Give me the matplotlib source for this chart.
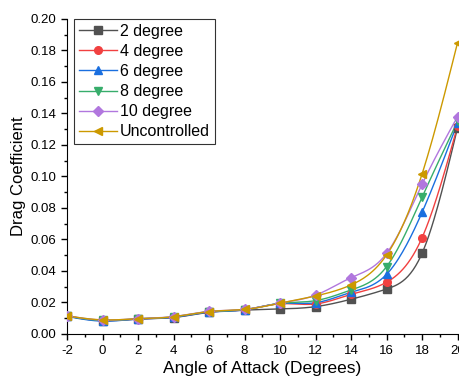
import numpy as np
import matplotlib.pyplot as plt
from matplotlib.ticker import MultipleLocator

plt.rcParams['font.family'] = ['Liberation Sans', 'DejaVu Sans']
plt.rcParams['axes.unicode_minus'] = False

# ---- data ----
angles = [-2, 0, 2, 4, 6, 8, 10, 12, 14, 16, 18, 20]
cd_2deg = [0.0112, 0.0083, 0.0093, 0.0103, 0.0136, 0.0150, 0.0157, 0.0172, 0.0219, 0.0284, 0.0511, 0.131]
cd_4deg = [0.0112, 0.0084, 0.0094, 0.0105, 0.0138, 0.0152, 0.0190, 0.0189, 0.0250, 0.0327, 0.0610, 0.132]
cd_6deg = [0.0110, 0.0080, 0.0093, 0.0104, 0.0137, 0.0151, 0.0192, 0.0197, 0.0263, 0.0377, 0.0771, 0.134]
cd_8deg = [0.0112, 0.0085, 0.0095, 0.0107, 0.0140, 0.0153, 0.0193, 0.0210, 0.0278, 0.0426, 0.0867, 0.135]
cd_10deg = [0.0114, 0.0087, 0.0096, 0.0109, 0.0142, 0.0155, 0.0195, 0.0245, 0.0356, 0.0510, 0.0949, 0.138]
cd_unc = [0.0113, 0.0088, 0.0095, 0.0108, 0.0141, 0.0154, 0.0194, 0.0240, 0.0310, 0.0500, 0.1015, 0.185]

labels = ['2 degree', '4 degree', '6 degree', '8 degree', '10 degree', 'Uncontrolled']
series = [cd_2deg, cd_4deg, cd_6deg, cd_8deg, cd_10deg, cd_unc]
colors = ['#515151', '#F14040', '#1A6FDF', '#37AD6B', '#B177DE', '#CC9900']
markers = ['s', 'o', '^', 'v', 'D', '<']
msizes = [5.5, 5.5, 6, 6, 5, 6]


def spline(x, y, n=300):
    """natural cubic spline through the points (line style only)"""
    x = np.asarray(x, float)
    y = np.asarray(y, float)
    k = len(x)
    h = np.diff(x)
    A = np.zeros((k, k))
    b = np.zeros(k)
    A[0, 0] = A[-1, -1] = 1
    for i in range(1, k - 1):
        A[i, i - 1] = h[i - 1]
        A[i, i] = 2 * (h[i - 1] + h[i])
        A[i, i + 1] = h[i]
        b[i] = 3 * ((y[i + 1] - y[i]) / h[i] - (y[i] - y[i - 1]) / h[i - 1])
    c = np.linalg.solve(A, b)
    xs = np.linspace(x[0], x[-1], n)
    idx = np.clip(np.searchsorted(x, xs) - 1, 0, k - 2)
    dx = xs - x[idx]
    hi = h[idx]
    bb = (y[idx + 1] - y[idx]) / hi - hi * (2 * c[idx] + c[idx + 1]) / 3
    dd = (c[idx + 1] - c[idx]) / (3 * hi)
    ys = y[idx] + bb * dx + c[idx] * dx ** 2 + dd * dx ** 3
    return xs, ys


fig = plt.figure(figsize=(4.6, 3.83), dpi=100)
ax = fig.add_axes([0.1457, 0.1287, 0.849, 0.8217])

for vals, lab, col, mk, ms in zip(series, labels, colors, markers, msizes):
    xs, ys = spline(angles, vals)
    ax.plot(xs, ys, color=col, lw=1.0, zorder=2)
    ax.plot(angles, vals, ls='none', marker=mk, ms=ms, color=col, zorder=3)
    ax.plot([], [], color=col, lw=1.0, marker=mk, ms=ms, label=lab)

ax.set_xlim(-2, 20)
ax.set_ylim(0, 0.20)
ax.xaxis.set_major_locator(MultipleLocator(2))
ax.xaxis.set_minor_locator(MultipleLocator(1))
ax.yaxis.set_major_locator(MultipleLocator(0.02))
ax.yaxis.set_minor_locator(MultipleLocator(0.01))
ax.yaxis.set_major_formatter(plt.FormatStrFormatter('%.2f'))
ax.spines['top'].set_visible(False)
ax.spines['right'].set_visible(False)
ax.tick_params(which='major', direction='out', length=4.5, width=1, labelsize=9.5)
ax.tick_params(which='minor', direction='out', length=2.5, width=1)
ax.set_xlabel('Angle of Attack (Degrees)', fontsize=12.5, labelpad=3)
ax.set_ylabel('Drag Coefficient', fontsize=12, labelpad=3)

leg = ax.legend(loc='upper left', bbox_to_anchor=(0.018, 1.0), borderaxespad=0,
                fontsize=11.5, frameon=True, fancybox=False, handlelength=2.4,
                handletextpad=0.17, labelspacing=0.32, borderpad=0.3)
leg.get_frame().set_edgecolor('black')
leg.get_frame().set_linewidth(0.8)

fig.savefig('out.png', dpi=100)
